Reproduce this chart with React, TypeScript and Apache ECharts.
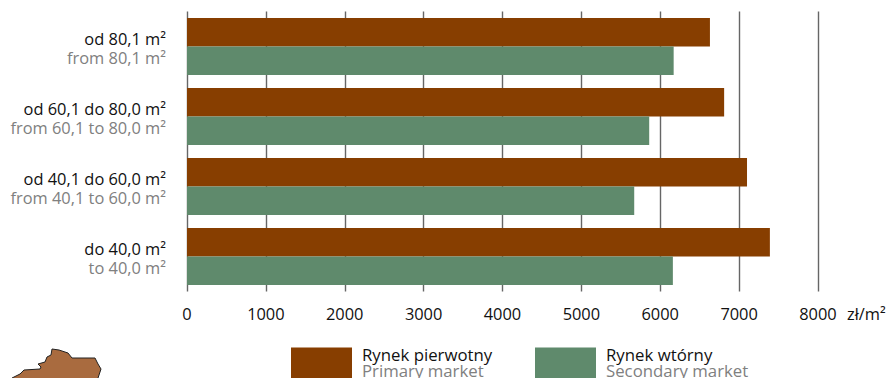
import React, { useEffect, useRef } from "react";
import * as echarts from "echarts";

const categoriesPl = ["do 40,0 m²", "od 40,1 do 60,0 m²", "od 60,1 do 80,0 m²", "od 80,1 m²"];
const categoriesEn = ["to 40,0 m²", "from 40,1 to 60,0 m²", "from 60,1 to 80,0 m²", "from 80,1 m²"];
const primaryValues = [7390, 7100, 6810, 6630];
const secondaryValues = [6160, 5670, 5860, 6170];
const primaryName = "Rynek pierwotny";
const primaryNameEn = "Primary market";
const secondaryName = "Rynek wtórny";
const secondaryNameEn = "Secondary market";
const unit = "zł/m²";
const mapShape =
  "M8 92 L12 88 L20 84 L24 80 L40 79 L41 77 L38 74 L45 72 L47 67 L51 65 L52 59 L59 60 L68 63 L72 68 L95 68 L98 74 L101 79 L98 88 L98 95 L8 95 Z";

const FONT = "'Open Sans', 'Noto Sans', sans-serif";
const BROWN = "#873e00";
const GREEN = "#5f8a6c";
const FS = 16.4;

export default function App() {
  const ref = useRef<HTMLDivElement>(null);
  useEffect(() => {
    document.body.style.margin = "0";
    echarts.graphic.registerShape("mapShape", echarts.graphic.extendPath(mapShape, {}) as any);
    const chart = echarts.init(ref.current!, undefined, { renderer: "svg" });
    const legendRich = {
      a: { fontFamily: FONT, fontSize: 16.8, color: "#111", lineHeight: 16 },
      b: { fontFamily: FONT, fontSize: 16.8, color: "#808080", lineHeight: 16 },
    };
    chart.setOption({
      animation: false,
      textStyle: { fontFamily: FONT },
      grid: { left: 187, right: 72, top: 11.5, bottom: 86.5, containLabel: false },
      xAxis: {
        type: "value",
        min: 0,
        max: 8000,
        interval: 1000,
        axisLine: { show: false },
        axisTick: { show: false },
        axisLabel: { color: "#111", fontSize: FS, fontFamily: FONT, margin: 14, formatter: (v: number) => String(v) },
        splitLine: { show: true, lineStyle: { color: "#666", width: 1.4 } },
        name: unit,
        nameLocation: "end",
        nameGap: 29,
        nameTextStyle: { color: "#111", fontSize: 16.4, fontFamily: FONT, align: "left", verticalAlign: "top", padding: [14, 0, 0, 0] },
      },
      yAxis: {
        type: "category",
        data: categoriesPl,
        axisLine: { show: false },
        axisTick: { show: false },
        axisLabel: {
          margin: 21,
          align: "right",
          padding: [2, 0, 0, 0],
          formatter: (_: string, i: number) => `{a|${categoriesPl[i]}}\n{b|${categoriesEn[i]}}`,
          rich: {
            a: { fontFamily: FONT, fontSize: FS, color: "#111", lineHeight: 19, align: "right" },
            b: { fontFamily: FONT, fontSize: FS, color: "#808080", lineHeight: 19, align: "right" },
          },
        },
      },
      legend: [
        {
          left: 291, top: 346, itemWidth: 61, itemHeight: 32, itemGap: 0, padding: 0,
          data: [primaryName], icon: "rect",
          formatter: () => `{a|${primaryName}}\n{b|${primaryNameEn}}`,
          textStyle: { rich: legendRich, padding: [0, 0, 2, 5] },
        },
        {
          left: 535, top: 346, itemWidth: 61, itemHeight: 32, itemGap: 0, padding: 0,
          data: [secondaryName], icon: "rect",
          formatter: () => `{a|${secondaryName}}\n{b|${secondaryNameEn}}`,
          textStyle: { rich: legendRich, padding: [0, 0, 2, 5] },
        },
      ],
      series: [
        { name: primaryName, type: "bar", data: primaryValues, barWidth: 28.5, barGap: 0, itemStyle: { color: BROWN } },
        { name: secondaryName, type: "bar", data: secondaryValues, barWidth: 28.5, barGap: 0, itemStyle: { color: GREEN } },
      ],
      graphic: [
        { type: "mapShape", x: 0, y: 290, style: { fill: "#a96b3f", stroke: "#222", lineWidth: 1 } },
      ],
    });
    return () => chart.dispose();
  }, []);
  return <div ref={ref} style={{ width: 890, height: 378 }} />;
}
